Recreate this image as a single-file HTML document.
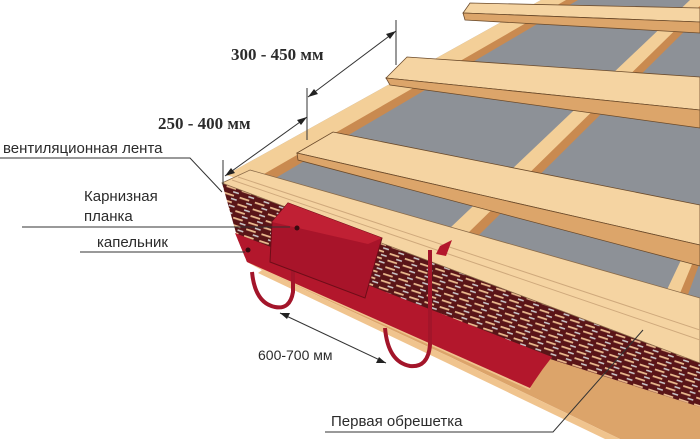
<!DOCTYPE html>
<html><head><meta charset="utf-8"><style>
html,body{margin:0;padding:0;background:#fff;}
svg{display:block;}
.t{font-family:"Liberation Sans","DejaVu Sans",sans-serif;fill:#2b2b2b;font-size:15px;}
.d{font-family:"Liberation Serif",serif;font-weight:bold;fill:#2b2b2b;font-size:17px;}
</style></head><body>
<svg width="700" height="439" viewBox="0 0 700 439" xmlns="http://www.w3.org/2000/svg">
<defs>
<pattern id="vent" width="16" height="7" patternUnits="userSpaceOnUse" patternTransform="rotate(18)">
<rect width="16" height="7" fill="#5a1518"/>
<rect x="1" y="1" width="10" height="1.8" fill="#e9b98e"/>
<rect x="9" y="4.5" width="6" height="1.6" fill="#c9c4c6"/>
</pattern>
</defs>
<polygon points="541,0 700,0 700,300 226,175" fill="#8d9197"/>
<polygon points="541,0 575,0 258,184 226,175" fill="#f3cf98"/>
<polygon points="566,0 578,0 262,186 250,182" fill="#c98a50"/>
<polygon points="690,0 712,0 472,235 450,228" fill="#f3cf98"/>
<polygon points="706,0 716,0 478,236 468,233" fill="#c98a50"/>
<polygon points="700,220 700,262 682,300 664,296" fill="#f3cf98"/>
<polygon points="700,245 700,262 686,300 678,298" fill="#c98a50"/>
<polygon points="470,3 700,8 700,22 463,13" fill="#f5d4a2" stroke="#6b4a2a" stroke-width="0.8"/>
<polygon points="463,13 700,22 700,33 465,20" fill="#dca56a" stroke="#6b4a2a" stroke-width="0.8"/>
<polygon points="407,57 700,77 700,110 386,78" fill="#f5d4a2" stroke="#6b4a2a" stroke-width="0.8"/>
<polygon points="386,78 700,110 700,128 390,85" fill="#dca56a" stroke="#6b4a2a" stroke-width="0.8"/>
<polygon points="333,132 700,205 700,245 297,153" fill="#f5d4a2" stroke="#6b4a2a" stroke-width="0.8"/>
<polygon points="297,153 700,245 700,266 298,160" fill="#dca56a" stroke="#6b4a2a" stroke-width="0.8"/>
<!-- lower fascia -->
<polygon points="247,262 700,400 700,439 620,439 450,357 262,270" fill="#dca46a"/>
<polygon points="262,270 450,357 620,439 605,439 445,362 258,273" fill="#f0c48e"/>
<polygon points="247,262 540,360 530,390 262,270" fill="#f0c48e"/>
<!-- vent tape -->
<polygon points="222,183 700,363 700,407 247,262 238,240" fill="url(#vent)"/>
<!-- eave board -->
<polygon points="250,170 700,298 700,363 222,183" fill="#f5d4a2" stroke="#8a6a48" stroke-width="0.8"/>
<line x1="238" y1="177" x2="700" y2="330" stroke="#cfa97c" stroke-width="1"/>
<line x1="232" y1="180" x2="700" y2="340" stroke="#cfa97c" stroke-width="1"/>
<path d="M235,233 L552,357 Q540,372 530,388 L247,262 Z" fill="#b3172c"/>
<circle cx="248" cy="250" r="2.5" fill="#3a0a10"/>
<polygon points="440,246 452,240 446,256 436,254" fill="#b3172c"/>
<path d="M293,262 L293,292 Q290,310 275,307 Q255,303 252,272" fill="none" stroke="#a3152a" stroke-width="4"/>
<path d="M430,250 L430,345 Q428,368 410,366 Q388,362 385,328" fill="none" stroke="#a3152a" stroke-width="4"/>
<polygon points="272,222 288,203 382,238 365,298 270,262" fill="#a8142a" stroke="#6e0d18" stroke-width="1"/>
<polygon points="272,222 288,203 382,238 368,244" fill="#c02034"/>
<circle cx="297" cy="228" r="2.5" fill="#3a0a10"/>
<g stroke="#333" stroke-width="1" fill="none">
<line x1="396" y1="20" x2="396" y2="65"/>
<line x1="307" y1="88" x2="307" y2="140"/>
<line x1="223" y1="160" x2="223" y2="185"/>
<line x1="308" y1="97" x2="396" y2="31"/>
<line x1="225" y1="176" x2="307" y2="117"/>
<line x1="280" y1="313" x2="386" y2="363"/>
<polyline points="0,158 190,158 222,192"/>
<line x1="22" y1="227" x2="290" y2="227"/>
<line x1="80" y1="252" x2="245" y2="252"/>
<polyline points="325,432 553,432 643,330"/>
</g>
<g fill="#222">
<polygon points="396,31 386,34 390,39"/>
<polygon points="308,97 314,89 318,94"/>
<polygon points="307,117 297,120 301,125"/>
<polygon points="225,176 231,168 235,173"/>
<polygon points="280,313 290,313 287,319"/>
<polygon points="386,363 376,363 379,357"/>
</g>
<text class="d" x="231" y="60">300 - 450 мм</text>
<text class="d" x="158" y="129">250 - 400 мм</text>
<text class="t" x="3" y="153">вентиляционная лента</text>
<text class="t" x="84" y="201">Карнизная</text>
<text class="t" x="84" y="221">планка</text>
<text class="t" x="97" y="247">капельник</text>
<text class="t" x="258" y="360" style="font-size:14px">600-700 мм</text>
<text class="t" x="331" y="426">Первая обрешетка</text>
</svg>
</body></html>
